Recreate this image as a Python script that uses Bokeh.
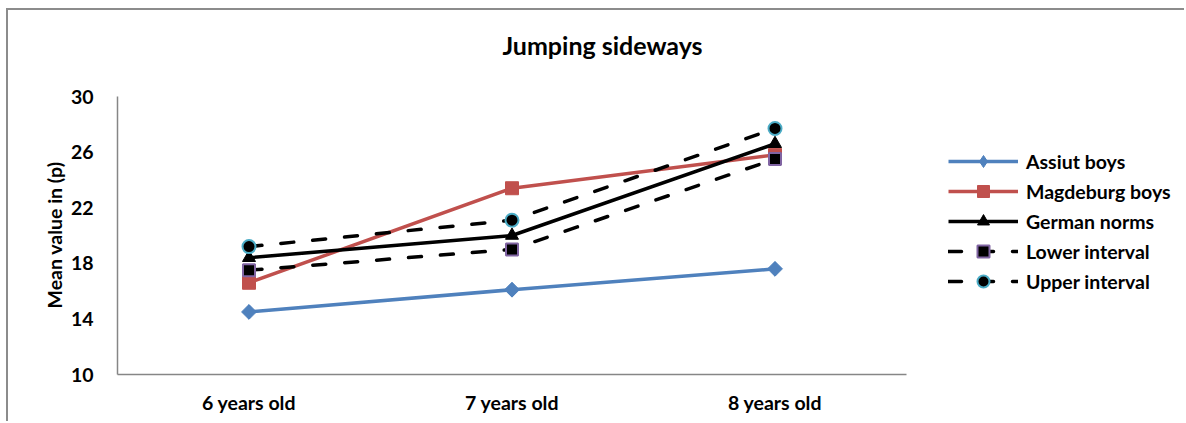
import numpy as np
from bokeh.plotting import figure
from bokeh.models import (ColumnDataSource, Range1d, FixedTicker,
                          Legend, LegendItem, Label, Title)
from bokeh.embed import file_html
from bokeh.resources import INLINE

# ---- data ----
ages = ["6 years old", "7 years old", "8 years old"]
assiut_boys = [14.5, 16.1, 17.6]
magdeburg_boys = [16.6, 23.4, 25.8]
german_norms = [18.4, 20.0, 26.6]
lower_interval = [17.5, 19.0, 25.5]
upper_interval = [19.2, 21.1, 27.7]
y_ticks = [10, 14, 18, 22, 26, 30]
title_text = "Jumping sideways"
y_label = "Mean value in (p)"

FONT = "Lato"
GRAY = "#868686"

# ---- layout (pixels) ----
CANVAS_W, CANVAS_H = 1178, 413
LEFT = 109            # frame left inside canvas
BOTTOM = 49           # space for x labels
PX_PER_CAT = 263.0
PX_PER_UNIT = 278.0 / 20.0
frame_w = CANVAS_W - LEFT
frame_h = CANVAS_H - BOTTOM
y0 = y_ticks[0]
x_end = frame_w / PX_PER_CAT
y_end = y0 + frame_h / PX_PER_UNIT

x_pos = [i + 0.5 for i in range(len(ages))]

p = figure(x_range=Range1d(0, x_end), y_range=Range1d(y0, y_end),
           width=CANVAS_W, height=CANVAS_H, output_backend="svg", toolbar_location=None,
           min_border_left=LEFT, min_border_right=0, min_border_top=0,
           min_border_bottom=BOTTOM)
p.styles = {"margin-left": "6px", "margin-top": "8px",
            "border-left": "2px solid #8c8c8c", "border-top": "2px solid #8c8c8c"}
p.title.visible = False
p.outline_line_color = None
p.xgrid.visible = False
p.ygrid.visible = False

for ax in (p.xaxis, p.yaxis):
    ax.axis_line_color = GRAY
    ax.axis_line_width = 1.5
    ax.major_tick_line_color = None
    ax.minor_tick_line_color = None
    ax.major_label_text_font = FONT
    ax.major_label_text_font_style = "bold"
    ax.major_label_text_font_size = "19.5px"
    ax.major_label_text_color = "black"

p.yaxis.ticker = FixedTicker(ticks=y_ticks)
p.yaxis.bounds = (y_ticks[0], y_ticks[-1])
p.yaxis.major_label_standoff = 18

# y-axis title, centred on the 10..30 part of the axis
ylab = Title(text=y_label, align="left", offset=66, standoff=4,
             text_font=FONT, text_font_style="bold", text_font_size="19.5px",
             text_color="black")
p.add_layout(ylab, "left")

p.xaxis.ticker = FixedTicker(ticks=x_pos)
p.xaxis.major_label_overrides = {x: lab for x, lab in zip(x_pos, ages)}
p.xaxis.bounds = (0, len(ages))
p.xaxis.major_label_standoff = 10

src = ColumnDataSource(dict(x=x_pos, a=assiut_boys, m=magdeburg_boys, g=german_norms,
                            lo=lower_interval, up=upper_interval))

items = []
l1 = p.line("x", "a", source=src, line_color="#4F81BD", line_width=3.5)
# diamond used for the legend swatch (legend ignores marker angle); hidden under m1
m1_key = p.scatter("x", "a", source=src, marker="diamond", size=14,
                   fill_color="#4F81BD", line_color="#4F81BD")
m1 = p.scatter("x", "a", source=src, marker="square", angle=np.pi / 4, size=10.5,
               fill_color="#4F81BD", line_color="#4F81BD")
items.append(LegendItem(label="Assiut boys", renderers=[l1, m1_key]))

l2 = p.line("x", "m", source=src, line_color="#C0504D", line_width=3.5)
m2 = p.scatter("x", "m", source=src, marker="square", size=13,
               fill_color="#C0504D", line_color="#C0504D")
items.append(LegendItem(label="Magdeburg boys", renderers=[l2, m2]))

l3 = p.line("x", "g", source=src, line_color="black", line_width=3.5)
m3 = p.scatter("x", "g", source=src, marker="triangle", size=13,
               fill_color="black", line_color="black")
items.append(LegendItem(label="German norms", renderers=[l3, m3]))

l4 = p.line("x", "lo", source=src, line_color="black", line_width=3.5,
            line_dash="13 19", line_cap="round")
m4 = p.scatter("x", "lo", source=src, marker="square", size=12,
               fill_color="black", line_color="#8064A2", line_width=2)
items.append(LegendItem(label="Lower interval", renderers=[l4, m4]))

l5 = p.line("x", "up", source=src, line_color="black", line_width=3.5,
            line_dash="13 19", line_cap="round")
m5 = p.scatter("x", "up", source=src, marker="circle", size=13,
               fill_color="black", line_color="#4BACC6", line_width=2)
items.append(LegendItem(label="Upper interval", renderers=[l5, m5]))

legend = Legend(items=items, location=(831, 78), margin=0, padding=0,
                glyph_width=70, glyph_height=30, spacing=0, label_standoff=8,
                label_text_font=FONT, label_text_font_style="bold",
                label_text_font_size="19.5px", label_text_color="black",
                border_line_color=None, background_fill_alpha=0)
p.add_layout(legend)

title_x = (602 - 117) / PX_PER_CAT
title_y = y0 + (374 - 44) / PX_PER_UNIT
p.add_layout(Label(x=title_x, y=title_y, text=title_text, text_font=FONT,
                   text_font_style="bold", text_font_size="25px",
                   text_align="center", text_baseline="middle", text_color="black"))

open("out.html", "w").write(file_html(p, INLINE))
